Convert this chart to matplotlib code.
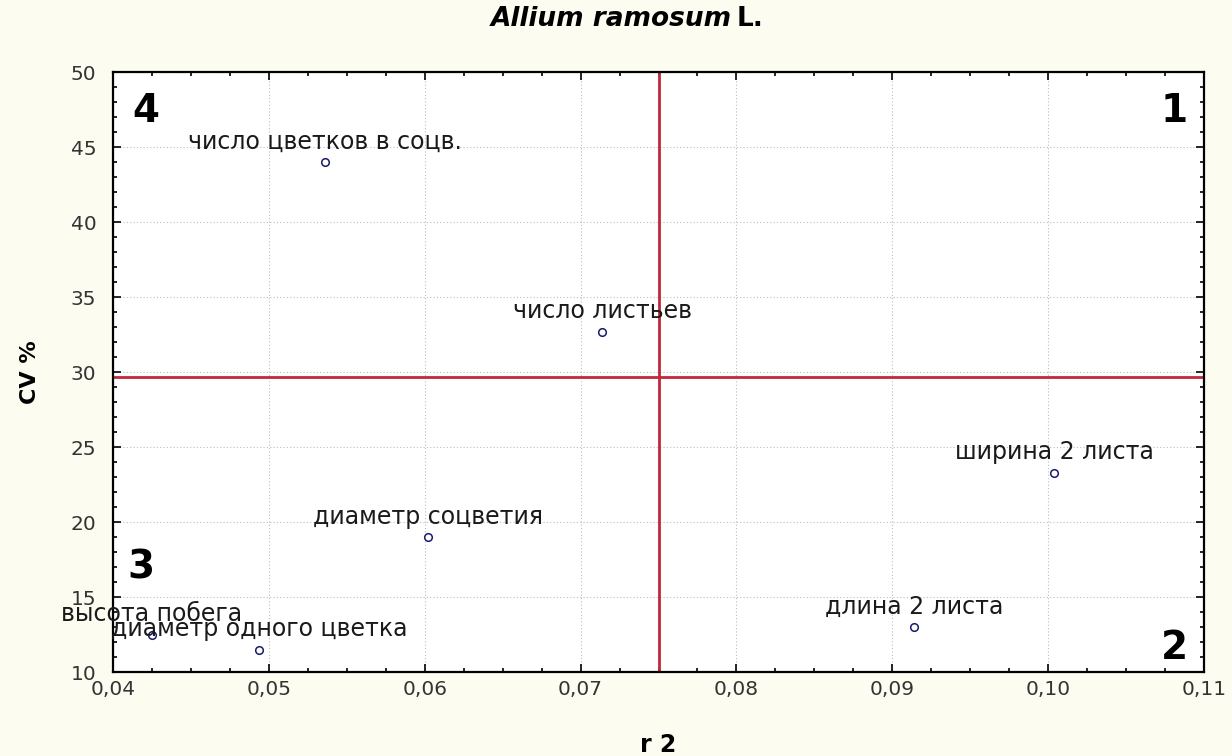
import matplotlib
matplotlib.use('Agg')
import matplotlib.pyplot as plt
from matplotlib.ticker import MultipleLocator

# Данные: r2 и CV% для признаков
labels = ["число цветков в соцв.", "число листьев", "ширина 2 листа",
          "диаметр соцветия", "длина 2 листа", "высота побега",
          "диаметр одного цветка"]
r2 = [0.0536, 0.0714, 0.1004, 0.0602, 0.0914, 0.0425, 0.0494]
cv = [44.0, 32.7, 23.3, 19.0, 13.0, 12.5, 11.5]

x_ticks = [0.04, 0.05, 0.06, 0.07, 0.08, 0.09, 0.10, 0.11]
x_ticklabels = ["0,04", "0,05", "0,06", "0,07", "0,08", "0,09", "0,10", "0,11"]
y_ticks = [10, 15, 20, 25, 30, 35, 40, 45, 50]

r2_split = 0.075
cv_split = 29.7

quadrants = ["1", "2", "3", "4"]

plt.rcParams['font.family'] = ['DejaVu Sans']

fig = plt.figure(figsize=(12.32, 7.56), dpi=100, facecolor='#fdfcf1')
ax = fig.add_axes([0.0917, 0.111, 0.8856, 0.7937])
ax.set_facecolor('white')

ax.set_xlim(0.04, 0.11)
ax.set_ylim(10, 50)
ax.set_xticks(x_ticks)
ax.set_xticklabels(x_ticklabels)
ax.set_yticks(y_ticks)
ax.xaxis.set_minor_locator(MultipleLocator(0.0025))
ax.yaxis.set_minor_locator(MultipleLocator(1))
ax.tick_params(which='both', direction='in', top=True, right=True,
               colors='black', labelcolor='#333333', labelsize=14.5, width=1.2)
ax.tick_params(which='major', length=6)
ax.tick_params(which='minor', length=3)
ax.tick_params(axis='x', which='major', pad=6)
ax.tick_params(axis='y', which='major', pad=12)
for s in ax.spines.values():
    s.set_linewidth(1.6)

ax.grid(True, which='major', linestyle=(0, (1, 2)), color='#bdbdbd', linewidth=0.8)
ax.set_axisbelow(True)

# Красные линии раздела квадрантов
ax.axvline(r2_split, color='#c0283c', linewidth=2, zorder=2)
ax.axhline(cv_split, color='#c0283c', linewidth=2, zorder=2)

ax.scatter(r2, cv, s=30, facecolors='white', edgecolors='#1a1a6e', linewidths=1.1, zorder=3)
for lab, x, y in zip(labels, r2, cv):
    ax.annotate(lab, (x, y), xytext=(0, 14.5), textcoords='offset points',
                ha='center', va='center', fontsize=17, color='#1a1a1a', zorder=4)

# Номера квадрантов
qkw = dict(fontsize=28, fontweight='bold', color='black', transform=ax.transAxes, va='center')
ax.text(0.985, 0.935, quadrants[0], ha='right', **qkw)
ax.text(0.985, 0.04, quadrants[1], ha='right', **qkw)
ax.text(0.013, 0.175, quadrants[2], ha='left', **qkw)
ax.text(0.018, 0.935, quadrants[3], ha='left', **qkw)

# Заголовок
fig.text(0.594, 0.975, "Allium ramosum", fontsize=19, fontweight='bold',
         fontstyle='italic', ha='right', va='center')
fig.text(0.598, 0.975, "L.", fontsize=19, fontweight='bold', ha='left', va='center')

ax.set_xlabel("r 2", fontsize=17, fontweight='bold', labelpad=24)
ax.set_ylabel("CV %", fontsize=16, fontweight='bold', labelpad=22)

fig.savefig("out.png", dpi=100, facecolor=fig.get_facecolor())
